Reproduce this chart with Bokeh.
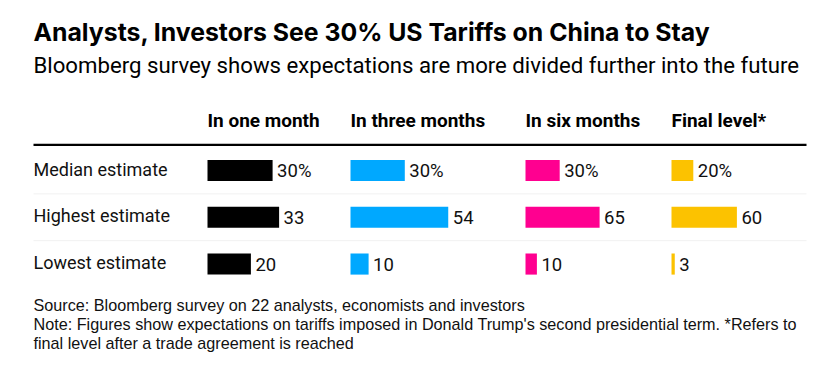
from bokeh.plotting import figure
from bokeh.models import Range1d, ColumnDataSource
from bokeh.embed import file_html
from bokeh.resources import INLINE
from bokeh.core.properties import value

# ---------------- data ----------------
title = "Analysts, Investors See 30% US Tariffs on China to Stay"
subtitle = "Bloomberg survey shows expectations are more divided further into the future"
rows = ["Median estimate", "Highest estimate", "Lowest estimate"]
columns = ["In one month", "In three months", "In six months", "Final level*"]
one_month = [30, 33, 20]
three_months = [30, 54, 10]
six_months = [30, 65, 10]
final_level = [20, 60, 3]
series = [one_month, three_months, six_months, final_level]
colors = ["#000000", "#00a8ff", "#ff0090", "#fcc200"]
source_line = "Source: Bloomberg survey on 22 analysts, economists and investors"
note_lines = [
    "Note: Figures show expectations on tariffs imposed in Donald Trump's second presidential term. *Refers to",
    "final level after a trade agreement is reached",
]

# ---------------- layout (pixels) ----------------
W, H = 829, 371
col_left = [207, 350, 525, 671]        # left edge of each bar column
px_per_unit = [2.17, 1.81, 1.14, 1.09]  # scale of each bar column
row0 = 170.0                            # centre of first row
row_step = 46.8
bar_px = 21.0

p = figure(width=W, height=H, x_range=Range1d(0, W), y_range=Range1d(H, 0),
           output_backend="svg", toolbar_location=None, min_border=0,
           x_axis_type=None, y_axis_type=None)
p.grid.visible = False
p.outline_line_color = None
p.background_fill_color = "white"
p.border_fill_color = "white"

p.extra_y_ranges = {"rows": Range1d(start=(H - row0) / row_step, end=-row0 / row_step)}
for j in range(len(columns)):
    k = px_per_unit[j]
    p.extra_x_ranges[f"c{j}"] = Range1d(start=-col_left[j] / k, end=(W - col_left[j]) / k)

# title and subtitle
p.text(x=[33], y=[31], text=[title], text_font=value("Inter"), text_font_style="bold",
       text_font_size="24.8px", text_color="#000000", text_baseline="middle")
p.text(x=[33], y=[64.5], text=[subtitle], text_font=value("Roboto"),
       text_font_size="22.2px", text_color="#000000", text_baseline="middle")

# header rule and faint row separators
p.segment(x0=[33], x1=[806], y0=[144.3], y1=[144.3], line_color="#000000", line_width=2.2)
idx = list(range(len(rows)))
p.segment(x0=[33] * 2, x1=[806] * 2, y0=[i + 0.5 for i in idx[:-1]], y1=[i + 0.5 for i in idx[:-1]],
          y_range_name="rows", line_color="#f1f1f1", line_width=1)

# row labels
p.text(x=[33] * len(rows), y=idx, text=rows, y_range_name="rows", y_offset=-1.5,
       text_font=value("Roboto"), text_font_size="18px", text_color="#111111",
       text_baseline="middle")

# columns
for j, (name, vals) in enumerate(zip(columns, series)):
    rng = f"c{j}"
    p.text(x=[0], y=[120], text=[name], x_range_name=rng,
           text_font=value("Roboto"), text_font_style="bold", text_font_size="19px",
           text_color="#000000", text_baseline="middle")
    src = ColumnDataSource(dict(
        y=idx, right=vals,
        label=[f"{v}%" if i == 0 else str(v) for i, v in enumerate(vals)],
    ))
    p.hbar(y="y", left=0, right="right", height=bar_px / row_step, source=src,
           x_range_name=rng, y_range_name="rows", fill_color=colors[j], line_color=None)
    p.text(x="right", y="y", text="label", source=src, x_range_name=rng, y_range_name="rows",
           x_offset=4.5, y_offset=0, text_font=value("Roboto"), text_font_size="18.5px",
           text_color="#111111", text_baseline="middle")

# footnotes
p.text(x=[33], y=[304.5], text=[source_line], text_font=value("Liberation Sans"),
       text_font_size="16.2px", text_color="#111111", text_baseline="middle")
p.text(x=[33, 33], y=[323.5, 342.5], text=note_lines, text_font=value("Liberation Sans"),
       text_font_size="16.2px", text_color="#111111", text_baseline="middle")

open("out.html", "w").write(file_html(p, INLINE))
